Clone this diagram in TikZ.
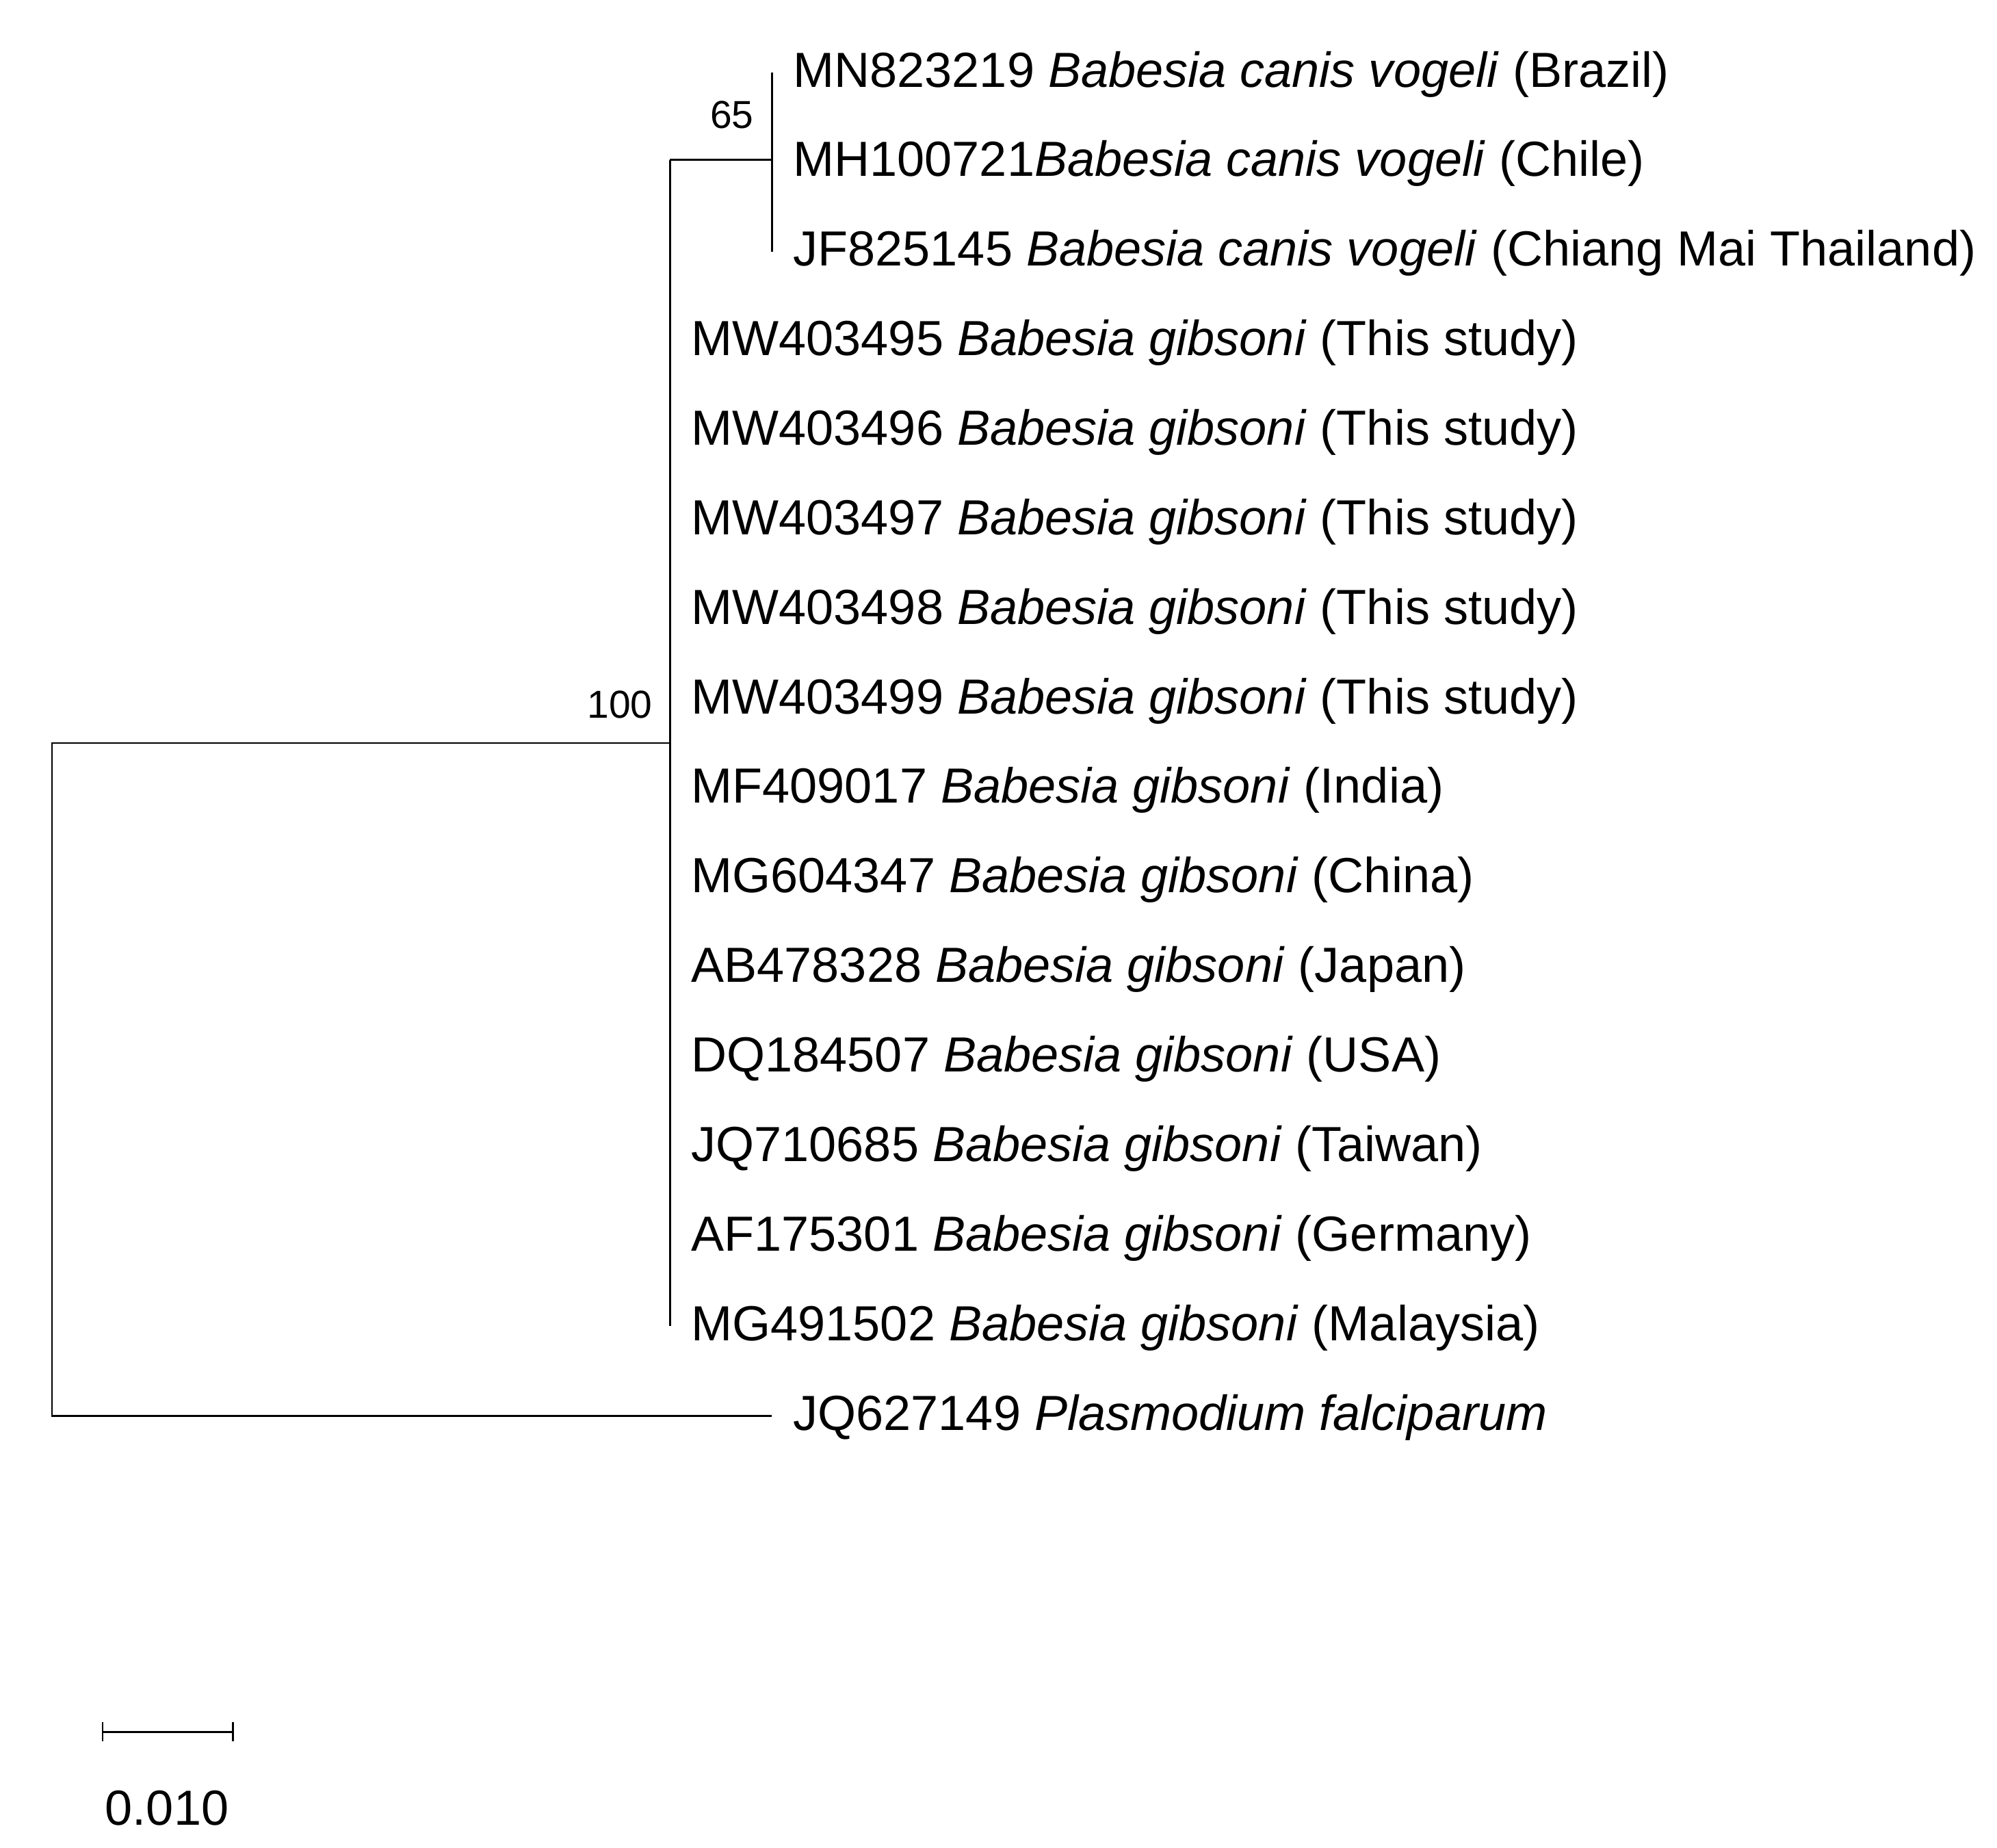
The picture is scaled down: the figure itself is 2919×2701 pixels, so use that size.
\documentclass[tikz,border=0pt]{standalone}
\usepackage{fontspec}
\setmainfont{Liberation Sans}
\newcommand{\drawscalebar}[3]
{\draw (#1,#3) coordinate (sbl) -- (#2,#3) coordinate (sbr);
\foreach \x in {#1,#2}
		{\draw  (\x,#3-14)--(\x,#3+14);
			};
}
\newcommand{\rowy}[1]{106+#1*130.87}

\begin{document}
\begin{tikzpicture}[x=0.01cm,y=-0.01cm,line width=0.85pt,
	leaf/.style={anchor=west,inner xsep=0.3cm,inner ysep=0pt,text height=0.62cm,text depth=0.2cm,font=\fontsize{20.5}{24}\selectfont},
	boot/.style={anchor=base east,inner sep=0pt,font=\fontsize{16.2}{19}\selectfont}]

\useasboundingbox (0,0) rectangle (2919,2701);

% internal nodes
\coordinate (root) at (76,1086);
\coordinate (gib) at (979,1086);
\coordinate (vog) at (1128,234);

% canis vogeli clade
\node[leaf] (c0) at (1128,\rowy{0}) {MN823219 \textit{Babesia canis vogeli} (Brazil)};
\node[leaf] (c1) at (1128,\rowy{1}) {MH100721\textit{Babesia canis vogeli} (Chile)};
\node[leaf] (c2) at (1128,\rowy{2}) {JF825145 \textit{Babesia canis vogeli} (Chiang Mai Thailand)};

% gibsoni
\foreach \acc/\place [count=\r from 3] in {MW403495/This study,MW403496/This study,MW403497/This study,MW403498/This study,MW403499/This study,MF409017/India,MG604347/China,AB478328/Japan,DQ184507/USA,JQ710685/Taiwan,AF175301/Germany,MG491502/Malaysia}
	{\node[leaf] (g\r) at (979,\rowy{\r}) {\acc\ \textit{Babesia gibsoni} (\place)};
	};

% outgroup
\node[leaf] (pf) at (1128,\rowy{15}) {JQ627149 \textit{Plasmodium falciparum}};

% branches
\draw (c0.west) -- (c2.west);
\draw (gib |- vog) -- (vog);
\draw (gib |- vog) -- (g14.west);
\draw (gib) -- (root) -- (root |- pf.west) -- (pf.west);

\node[boot] (b65) at (1103,188) {65};
\node[boot] (b100) at (955,1049) {100};

\drawscalebar{150}{340}{2531}
\node[anchor=base,inner sep=0pt,font=\fontsize{20.5}{24}\selectfont] (sblabel) at (244,2667) {0.010};
\end{tikzpicture}
\end{document}
